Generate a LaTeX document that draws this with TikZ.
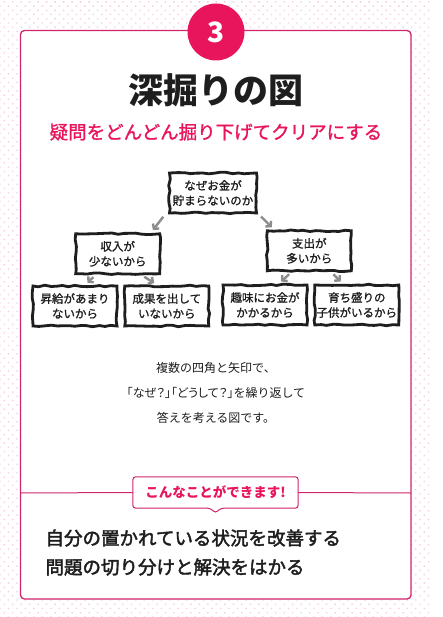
\documentclass[tikz,border=0pt]{standalone}
\usepackage{fontspec}
\usepackage{xcolor}
\usepackage{tikz}
\usetikzlibrary{arrows.meta,positioning,calc,patterns.meta,decorations.pathmorphing}
\setmainfont{Noto Sans CJK JP}
\newfontfamily\jpprop[RawFeature=+palt]{Noto Sans CJK JP}
\newfontfamily\jpmed[FakeBold=1.2]{Noto Sans CJK JP}
\newfontfamily\jpsemi[FakeBold=2.2]{Noto Sans CJK JP}
\definecolor{ink}{RGB}{30,30,30}
\definecolor{pinkmain}{RGB}{232,21,93}
\definecolor{pinkline}{RGB}{208,36,110}
\definecolor{pinkdot}{RGB}{248,204,220}
\definecolor{arrowgray}{RGB}{140,140,140}

\begin{document}
\begin{tikzpicture}[
    x=1pt,y=-1pt,
    whybox/.style={draw=ink,line width=2.8pt,fill=white,minimum width=#1,minimum height=40pt,inner sep=0pt,align=center,text=ink,font=\jpmed\fontsize{11.5}{15}\selectfont,decorate,decoration={random steps,segment length=6pt,amplitude=0.8pt}},
    whybox/.default=84pt,
    arrow/.style={-{Straight Barb[length=3.5pt,width=8pt]},line width=2.4pt,draw=arrowgray,shorten <=3pt,shorten >=3pt}
]
\pgfmathsetseed{7}
\useasboundingbox (0,0) rectangle (443,617);
\fill[white] (0,0) rectangle (443,617);
\fill[pattern={Dots[distance=6pt,radius=1pt,angle=45]},pattern color=pinkdot] (0,0) rectangle (430,617);

% card
\draw[pinkline,line width=1.3pt,fill=white,rounded corners=4pt] (20.5,30.5) rectangle (411,599);
\node[circle,fill=pinkmain,minimum size=57pt,inner sep=0pt,text=white,font=\fontsize{28}{28}\selectfont\bfseries] (num) at (216,32) {3};

\node[text=ink,font=\fontsize{35}{35}\selectfont\bfseries] (title) at (216,90) {深掘りの図};
\node[text=pinkmain,font=\jpmed\fontsize{18.5}{18.5}\selectfont] (sub) at (216,132) {疑問をどんどん掘り下げてクリアにする};

% tree
\node[whybox=87pt] (why) at (213,193) {なぜお金が\\貯まらないのか};
\node[whybox,below left=18pt and 7pt of why] (income) {収入が\\少ないから};
\node[whybox,below right=15pt and 8pt of why] (spend) {支出が\\多いから};
\node[whybox] (raise) at (75,306) {昇給があまり\\ないから};
\node[whybox,right=5pt of raise] (result) {成果を出して\\いないから};
\node[whybox] (hobby) at (265,305) {趣味にお金が\\かかるから};
\node[whybox,right=5pt of hobby] (kids) {育ち盛りの\\子供がいるから};

\draw[arrow] ([xshift=-3pt]why.south west) -- ([xshift=-10pt]income.north east);
\draw[arrow] ([xshift=1pt]why.south east) -- ([xshift=8pt]spend.north west);
\draw[arrow] ([xshift=-22pt]income.south) -- ([xshift=10pt]raise.north);
\draw[arrow] ([xshift=24pt]income.south) -- ([xshift=-10pt]result.north);
\draw[arrow] ([xshift=-18pt]spend.south) -- ([xshift=14pt]hobby.north);
\draw[arrow] ([xshift=22pt]spend.south) -- ([xshift=-14pt]kids.north);

\node[align=center,text=ink,font=\fontsize{12}{25}\selectfont] (desc) at (216,393) {複数の四角と矢印で、\\{\jpprop 「なぜ？」「どうして？」}を繰り返して\\答えを考える図です。};

% bottom part
\node[minimum width=165pt,minimum height=31pt,inner sep=0pt] (cando) at (215.5,492.5) {};
\draw[pinkline,line width=1pt] (20.5,493) -- (cando.west);
\draw[pinkline,line width=1pt] (cando.east) -- (411,493);
\draw[pinkline,line width=1pt,fill=white,rounded corners=3pt] (cando.north west) -- (cando.north east) -- (cando.south east) -- ([xshift=5pt]cando.south) -- ([yshift=-5pt]cando.south) -- ([xshift=-5pt]cando.south) -- (cando.south west) -- cycle;
\node[text=pinkmain,font=\fontsize{13.5}{13.5}\selectfont\bfseries] at (cando) {こんなことができます!};

\node[anchor=west,align=left,text=ink,font=\jpsemi\fontsize{18.5}{29}\selectfont] (gain) at (42,552.5) {自分の置かれている状況を改善する\\問題の切り分けと解決をはかる};
\end{tikzpicture}
\end{document}
